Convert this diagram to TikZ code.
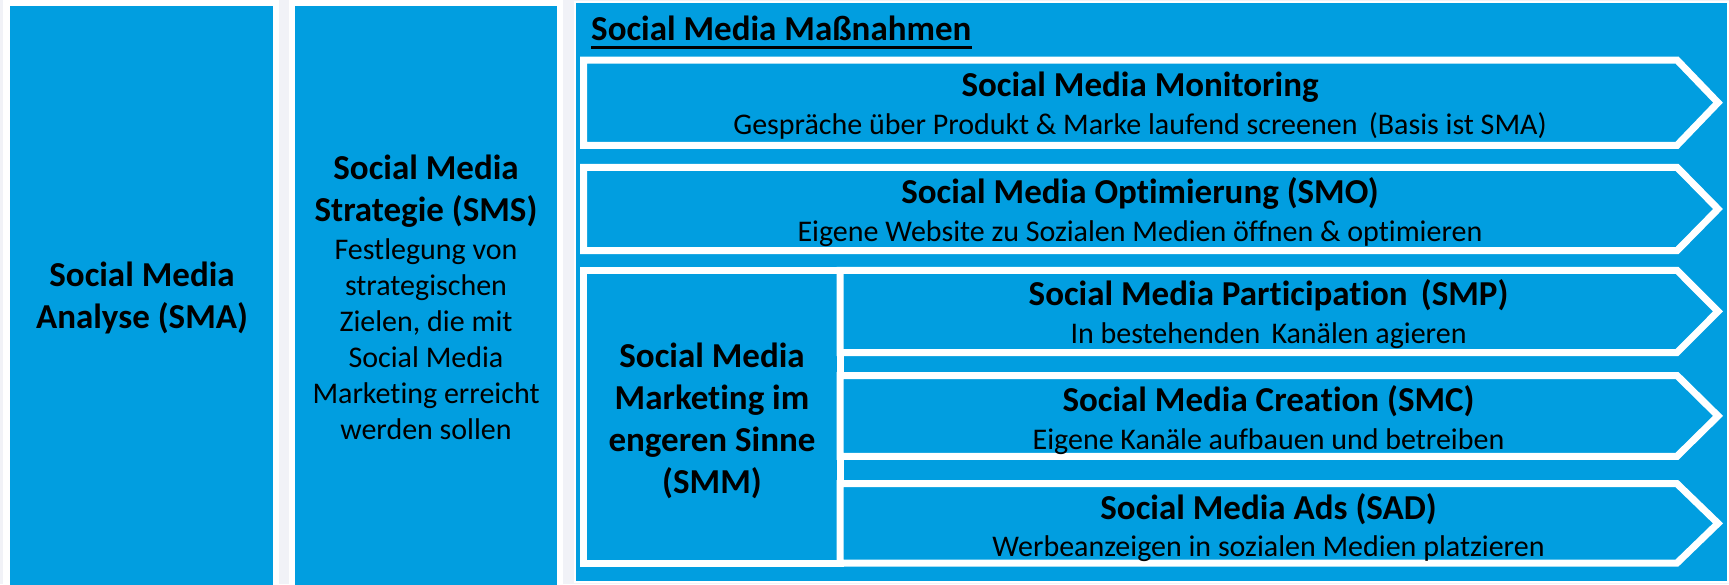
\documentclass[tikz,border=0pt]{standalone}
\usepackage{fontspec}
\setmainfont{Carlito}[Ligatures=NoCommon]
\definecolor{panelblue}{RGB}{1,158,224}
\definecolor{pagegray}{RGB}{241,242,247}

% arrow-shaped band: left x, top y, bottom y
\newcommand\bandshape[3]{%
  \draw[band] (#1,#2) -- (1677,#2) -- (1718,{(#2+#3)/2}) -- (1677,#3) -- (#1,#3) -- cycle;}
\newcommand\headfont{\bfseries\fontsize{35}{42}\selectfont}
\newcommand\bodyfont{\fontsize{30}{36}\selectfont}

\begin{document}
\begin{tikzpicture}[x=1pt,y=-1pt,
  panel/.style={fill=panelblue, draw=white, line width=6.5pt},
  band/.style={fill=panelblue, draw=white, line width=7pt, line join=miter},
  head/.style={font=\headfont, align=center, inner sep=0pt},
  body/.style={font=\bodyfont, align=center, inner sep=0pt},
  ctitle/.style={font=\headfont, anchor=base, inner sep=0pt},
  csub/.style={font=\bodyfont, anchor=base, inner sep=0pt},
]
\fill[pagegray] (0,0) rectangle (1729,584);
\useasboundingbox (0,0) rectangle (1729,584);

% the three columns
\draw[panel] (6.5,3) rectangle (276,588);
\draw[panel, line width=6pt] (292.2,3) rectangle (559.7,588);
\draw[fill=panelblue, draw=white, line width=2pt] (575,2) rectangle (1727.5,582);

% heading of the right column
\node[ctitle, anchor=base west] (mtitle) at (591,40) {Social Media Maßnahmen};
\draw[line width=3pt] ([yshift=-7pt]mtitle.base west) -- ([yshift=-7pt]mtitle.base east);

% bands
\bandshape{583.5}{60}{145.3}
\bandshape{583.5}{167.3}{250.7}
\draw[panel, line width=7pt] (583.5,270.3) rectangle (840,563);
\bandshape{840}{270.3}{352.5}
\bandshape{840}{375.5}{456.3}
\bandshape{840}{483.7}{563}

% column texts
\node[head] (sma) at (142,298) {Social Media\\Analyse (SMA)};
\node[body] (sms) at (426,297) {{\headfont Social Media}\\[6pt]
  {\headfont Strategie (SMS)}\\[2pt]
  Festlegung von\\strategischen\\Zielen, die mit\\Social Media\\Marketing erreicht\\werden sollen};
\node[head] (smm) at (712,421) {Social Media\\Marketing im\\engeren Sinne\\(SMM)};

% band texts
\node[ctitle] (smon) at (1140,96) {Social Media Monitoring};
\node[csub] (smonsub) at (1140,134.5) {Gespräche über Produkt \& Marke laufend screenen\hspace{0.15em} (Basis ist SMA)};
\node[ctitle] (smo) at (1140,203) {Social Media Optimierung (SMO)};
\node[csub] (smosub) at (1140,241) {Eigene Website zu Sozialen Medien öffnen \& optimieren};
\node[ctitle] (smp) at (1268.5,305.5) {Social Media Participation\hspace{0.15em} (SMP)};
\node[csub] (smpsub) at (1268.5,343.5) {In bestehenden\hspace{0.15em} Kanälen agieren};
\node[ctitle] (smc) at (1268.5,411.5) {Social Media Creation (SMC)};
\node[csub] (smcsub) at (1268.5,449) {Eigene Kanäle aufbauen und betreiben};
\node[ctitle] (sad) at (1268.5,519) {Social Media Ads (SAD)};
\node[csub] (sadsub) at (1268.5,556) {Werbeanzeigen in sozialen Medien platzieren};
\end{tikzpicture}
\end{document}
